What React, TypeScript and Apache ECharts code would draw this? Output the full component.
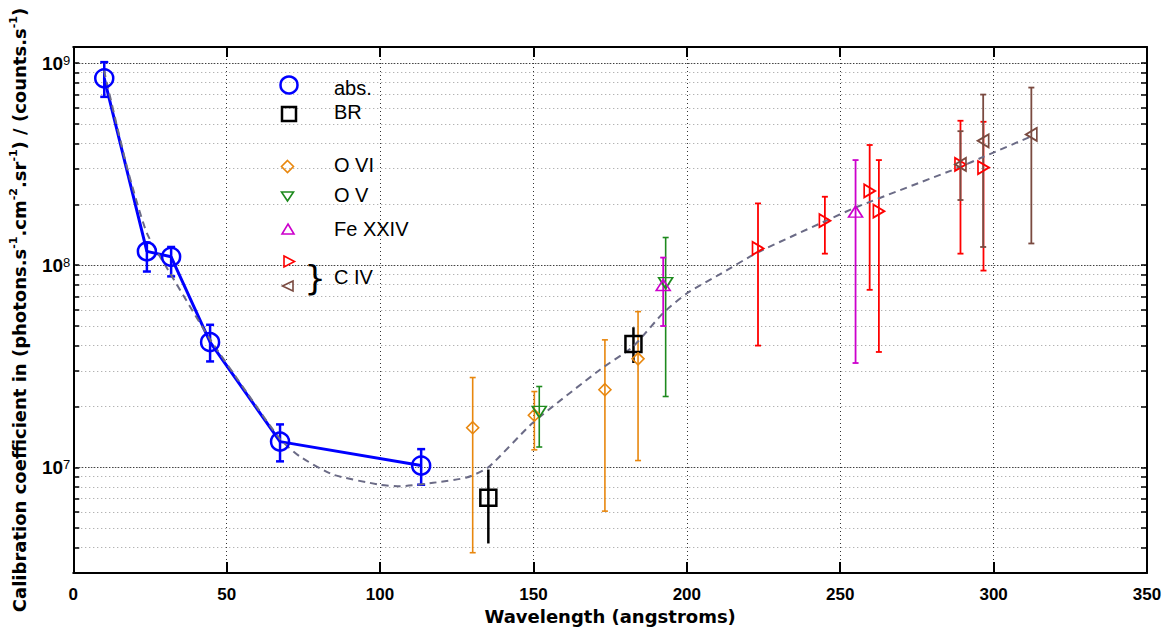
import React, { useEffect, useRef } from "react";
import * as echarts from "echarts";

// ---------- axes ----------
const X_MIN = 0;
const X_MAX = 350;
const X_INTERVAL = 50;
const Y_MIN = 3e6;
const Y_MAX = 1.2e9;
const Y_DECADES = [1e7, 1e8, 1e9];
const Y_GRID = [
  3e6, 4e6, 5e6, 6e6, 7e6, 8e6, 9e6,
  1e7, 2e7, 3e7, 4e7, 5e7, 6e7, 7e7, 8e7, 9e7,
  1e8, 2e8, 3e8, 4e8, 5e8, 6e8, 7e8, 8e8, 9e8,
  1e9,
];

// ---------- data ----------
const absX = [10.1, 24.0, 31.9, 44.6, 67.4, 113.4];
const absY = [8.4e8, 1.17e8, 1.10e8, 4.16e7, 1.34e7, 1.02e7];
const absLo = [6.8e8, 9.3e7, 8.8e7, 3.34e7, 1.07e7, 8.2e6];
const absHi = [1.01e9, 1.29e8, 1.23e8, 5.07e7, 1.63e7, 1.23e7];

const brX = [135.3, 182.6];
const brY = [7.06e6, 4.07e7];
const brLo = [4.2e6, 3.28e7];
const brHi = [9.75e6, 4.93e7];

const o6X = [130.2, 150.3, 173.3, 184.1];
const o6Y = [1.57e7, 1.81e7, 2.42e7, 3.44e7];
const o6Lo = [3.78e6, 1.22e7, 6.07e6, 1.08e7];
const o6Hi = [2.78e7, 2.37e7, 4.27e7, 5.89e7];

const o5X = [151.9, 193.1];
const o5Y = [1.88e7, 8.15e7];
const o5Lo = [1.26e7, 2.24e7];
const o5Hi = [2.51e7, 1.37e8];

const feX = [192.3, 255.0];
const feY = [7.98e7, 1.84e8];
const feLo = [5.0e7, 3.28e7];
const feHi = [1.09e8, 3.31e8];

const c4rX = [223.2, 245.0, 259.6, 262.6, 289.2, 296.7];
const c4rY = [1.21e8, 1.66e8, 2.33e8, 1.85e8, 3.15e8, 3.04e8];
const c4rLo = [4.0e7, 1.14e8, 7.55e7, 3.72e7, 1.14e8, 9.4e7];
const c4rHi = [2.02e8, 2.18e8, 3.93e8, 3.31e8, 5.18e8, 5.12e8];

const c4lX = [289.2, 296.6, 312.3];
const c4lY = [3.15e8, 4.12e8, 4.43e8];
const c4lLo = [2.1e8, 1.23e8, 1.28e8];
const c4lHi = [4.6e8, 6.98e8, 7.56e8];

const fitX = [10, 17.5, 24, 31.6, 44.3, 56.6, 67.4, 73.9, 84.7, 100, 106.5, 117.3, 128.2, 135.2, 149.8, 171.7, 182.4, 192.3, 200.3, 210.7, 222.8, 244.3, 255.4, 288.9, 296.4, 311.7];
const fitY = [9.2e8, 3.06e8, 1.44e8, 9.1e7, 4.37e7, 2.34e7, 1.38e7, 1.13e7, 9.2e6, 8.2e6, 8.06e6, 8.38e6, 8.9e6, 9.97e6, 1.66e7, 3.04e7, 3.95e7, 5.8e7, 7.3e7, 9.0e7, 1.15e8, 1.63e8, 1.94e8, 3.05e8, 3.42e8, 4.3e8];

// ---------- styles ----------
const C_BLUE = "#0000ff";
const C_BLACK = "#000000";
const C_ORANGE = "#e8870e";
const C_GREEN = "#1e8a1e";
const C_MAGENTA = "#cc00cc";
const C_RED = "#ff0000";
const C_BROWN = "#7a4a40";
const C_FIT = "#6b6b86";

const SYM_UP = "path://M5,0L10,9L0,9Z";
const SYM_DOWN = "path://M0,0L10,0L5,9Z";
const SYM_RIGHT = "path://M0,0L9,5L0,10Z";
const SYM_LEFT = "path://M9,0L0,5L9,10Z";

const pairs = (xs: number[], ys: number[]) => xs.map((x, i) => [x, ys[i]]);

function errSeries(name: string, xs: number[], lo: number[], hi: number[], color: string, width: number, cap: number) {
  return {
    type: "custom",
    name,
    xAxisIndex: 0,
    yAxisIndex: 0,
    data: xs.map((x, i) => [x, lo[i], hi[i]]),
    encode: { x: 0, y: [1, 2] },
    z: 3,
    renderItem: (params: any, api: any) => {
      const x = api.value(0);
      const a = api.coord([x, api.value(1)]);
      const b = api.coord([x, api.value(2)]);
      const style = { stroke: color, lineWidth: width, fill: "none" };
      const children: any[] = [
        { type: "line", shape: { x1: a[0], y1: a[1], x2: b[0], y2: b[1] }, style },
      ];
      if (cap > 0) {
        children.push({ type: "line", shape: { x1: a[0] - cap / 2, y1: a[1], x2: a[0] + cap / 2, y2: a[1] }, style });
        children.push({ type: "line", shape: { x1: b[0] - cap / 2, y1: b[1], x2: b[0] + cap / 2, y2: b[1] }, style });
      }
      return { type: "group", children };
    },
  };
}

function markSeries(name: string, xs: number[], ys: number[], symbol: string, size: any, color: string, bw: number) {
  return {
    type: "scatter",
    name,
    data: pairs(xs, ys),
    symbol,
    symbolSize: size,
    symbolKeepAspect: false,
    itemStyle: { color: "rgba(0,0,0,0)", borderColor: color, borderWidth: bw, opacity: 1 },
    z: 6,
  };
}

const TICK_FONT = "Liberation Sans";
const TITLE_FONT = "DejaVu Sans";

const isDecade = (v: number) => {
  const e = Math.log10(v);
  return Math.abs(e - Math.round(e)) < 1e-6 && Y_DECADES.indexOf(Math.pow(10, Math.round(e))) >= 0;
};

function buildOption(): any {
  const baseY = {
    type: "log",
    logBase: 10,
    min: Y_MIN,
    max: Y_MAX,
  };
  const baseX = {
    type: "value",
    min: X_MIN,
    max: X_MAX,
    interval: X_INTERVAL,
  };
  const legendText = (text: string, x: number, y: number) => ({
    type: "text",
    x,
    y,
    style: { text, fill: "#000", font: `20px "${TICK_FONT}"`, verticalAlign: "middle", align: "left" },
    z: 100,
  });
  const tri = (pts: number[][], color: string) => ({
    type: "polygon",
    shape: { points: pts },
    style: { fill: "none", stroke: color, lineWidth: 1.6 },
    z: 100,
  });
  return {
    animation: false,
    backgroundColor: "#ffffff",
    grid: { left: 73, right: 28, top: 47, bottom: 62, containLabel: false },
    xAxis: [
      {
        ...baseX,
        position: "bottom",
        name: "Wavelength (angstroms)",
        nameLocation: "middle",
        nameGap: 30,
        nameTextStyle: { fontFamily: TITLE_FONT, fontWeight: "bold", fontSize: 18, color: "#000" },
        axisLine: { show: true, onZero: false, lineStyle: { color: "#000", width: 2 } },
        axisTick: { show: true, inside: true, length: 11, lineStyle: { color: "#000", width: 2 } },
        axisLabel: { show: true, margin: 13, color: "#000", fontFamily: TICK_FONT, fontWeight: "bold", fontSize: 17 },
        splitLine: { show: true, lineStyle: { color: "#333", width: 1, type: [1, 3] } },
      },
      {
        ...baseX,
        position: "top",
        axisLine: { show: true, onZero: false, lineStyle: { color: "#000", width: 2 } },
        axisTick: { show: true, inside: true, length: 10, lineStyle: { color: "#000", width: 2 } },
        axisLabel: { show: false },
        splitLine: { show: false },
      },
    ],
    yAxis: [
      {
        ...baseY,
        position: "left",
        name: "{t|Calibration coefficient in (photons.s}{s|-1}{t|.cm}{s|-2}{t|.sr}{s|-1}{t|) / (counts.s}{s|-1}{t|)}",
        nameLocation: "middle",
        nameGap: 37,
        nameRotate: 90,
        nameTextStyle: {
          color: "#000",
          fontFamily: TITLE_FONT,
          fontWeight: "bold",
          fontSize: 18,
          rich: {
            t: { fontFamily: TITLE_FONT, fontWeight: "bold", fontSize: 18, color: "#000", verticalAlign: "bottom", lineHeight: 20 },
            s: { fontFamily: TITLE_FONT, fontWeight: "bold", fontSize: 11, color: "#000", verticalAlign: "top", lineHeight: 11, padding: [0, 0, 12, 0] },
          },
        },
        axisLine: { show: true, onZero: false, lineStyle: { color: "#000", width: 2 } },
        axisTick: { show: false },
        axisLabel: {
          show: true,
          margin: 3,
          color: "#000",
          fontFamily: TICK_FONT,
          fontWeight: "bold",
          fontSize: 19,
          showMinLabel: false,
          showMaxLabel: false,
          formatter: (v: number) => (isDecade(v) ? `{b|10}{s|${Math.round(Math.log10(v))}}` : ""),
          rich: {
            b: { fontFamily: TICK_FONT, fontWeight: "bold", fontSize: 19, color: "#000", verticalAlign: "bottom", lineHeight: 19 },
            s: { fontFamily: TICK_FONT, fontWeight: "normal", fontSize: 13, color: "#000", verticalAlign: "top", lineHeight: 13, padding: [0, 0, 16, 0] },
          },
        },
        splitLine: { show: false },
      },
      {
        ...baseY,
        position: "right",
        axisLine: { show: true, onZero: false, lineStyle: { color: "#000", width: 2 } },
        axisTick: { show: true, inside: true, length: 6, customValues: Y_GRID, lineStyle: { color: "#000", width: 1.5 } },
        axisLabel: { show: false },
        splitLine: { show: false },
      },
      {
        ...baseY,
        position: "left",
        axisLine: { show: false },
        axisTick: { show: true, inside: true, length: 6, customValues: Y_GRID, lineStyle: { color: "#000", width: 1.5 } },
        axisLabel: { show: false },
        splitLine: { show: true, lineStyle: { color: "#9a9a9a", width: 1, type: [1, 3] } },
      },
      {
        ...baseY,
        position: "left",
        axisLine: { show: false },
        axisTick: { show: false, customValues: Y_DECADES },
        axisLabel: { show: false },
        splitLine: { show: true, lineStyle: { color: "#111", width: 1, type: [1, 2] } },
      },
    ],
    graphic: [
      { type: "circle", shape: { cx: 289, cy: 85, r: 8.5 }, style: { fill: "none", stroke: C_BLUE, lineWidth: 2.5 }, z: 100 },
      legendText("abs.", 334, 88),
      { type: "rect", shape: { x: 282, y: 107, width: 14, height: 14 }, style: { fill: "none", stroke: C_BLACK, lineWidth: 2.5 }, z: 100 },
      legendText("BR", 334, 112),
      tri([[287.5, 160.5], [293.5, 166.5], [287.5, 172.5], [281.5, 166.5]], C_ORANGE),
      legendText("O VI", 334, 165),
      tri([[281.5, 192], [293.5, 192], [287.5, 201]], C_GREEN),
      legendText("O V", 334, 195),
      tri([[288, 224], [294, 234], [282, 234]], C_MAGENTA),
      legendText("Fe XXIV", 334, 229),
      tri([[284, 256], [294.5, 261.5], [284, 267]], C_RED),
      tri([[293, 281], [282.5, 286], [293, 291]], C_BROWN),
      {
        type: "text",
        x: 315,
        y: 278,
        style: { text: "}", fill: "#000", font: `34px "${TITLE_FONT}"`, verticalAlign: "middle", align: "center" },
        z: 100,
      },
      legendText("C IV", 334, 277),
    ],
    series: [
      errSeries("abs. err", absX, absLo, absHi, C_BLUE, 2.5, 8),
      errSeries("BR err", brX, brLo, brHi, C_BLACK, 2.5, 0),
      errSeries("O VI err", o6X, o6Lo, o6Hi, C_ORANGE, 1.6, 6),
      errSeries("O V err", o5X, o5Lo, o5Hi, C_GREEN, 1.6, 6),
      errSeries("Fe XXIV err", feX, feLo, feHi, C_MAGENTA, 1.8, 6),
      errSeries("C IV (r) err", c4rX, c4rLo, c4rHi, C_RED, 1.8, 6),
      errSeries("C IV (l) err", c4lX, c4lLo, c4lHi, C_BROWN, 1.8, 6),
      {
        type: "line",
        name: "abs. line",
        data: pairs(absX, absY),
        showSymbol: false,
        lineStyle: { color: C_BLUE, width: 3 },
        z: 4,
      },
      {
        type: "line",
        name: "fit",
        data: pairs(fitX, fitY),
        showSymbol: false,
        smooth: 0.2,
        lineStyle: { color: C_FIT, width: 2, type: [7, 5] },
        z: 5,
      },
      markSeries("abs.", absX, absY, "circle", 18, C_BLUE, 2.5),
      markSeries("BR", brX, brY, "rect", 16, C_BLACK, 2.5),
      markSeries("O VI", o6X, o6Y, "diamond", 12, C_ORANGE, 1.6),
      markSeries("O V", o5X, o5Y, SYM_DOWN, [14, 11], C_GREEN, 1.6),
      markSeries("Fe XXIV", feX, feY, SYM_UP, [14, 11], C_MAGENTA, 1.6),
      markSeries("C IV", c4rX, c4rY, SYM_RIGHT, [11, 13], C_RED, 1.8),
      markSeries("C IV ", c4lX, c4lY, SYM_LEFT, [11, 13], C_BROWN, 1.8),
    ],
  };
}

export default function App() {
  const ref = useRef<HTMLDivElement>(null);
  useEffect(() => {
    document.body.style.margin = "0";
    if (!ref.current) return;
    const chart = echarts.init(ref.current, undefined, { renderer: "svg" });
    chart.setOption(buildOption());
    return () => chart.dispose();
  }, []);
  return (
    <div
      ref={ref}
      style={{ position: "fixed", left: 0, top: 0, width: 1175, height: 635, background: "#fff" }}
    />
  );
}
